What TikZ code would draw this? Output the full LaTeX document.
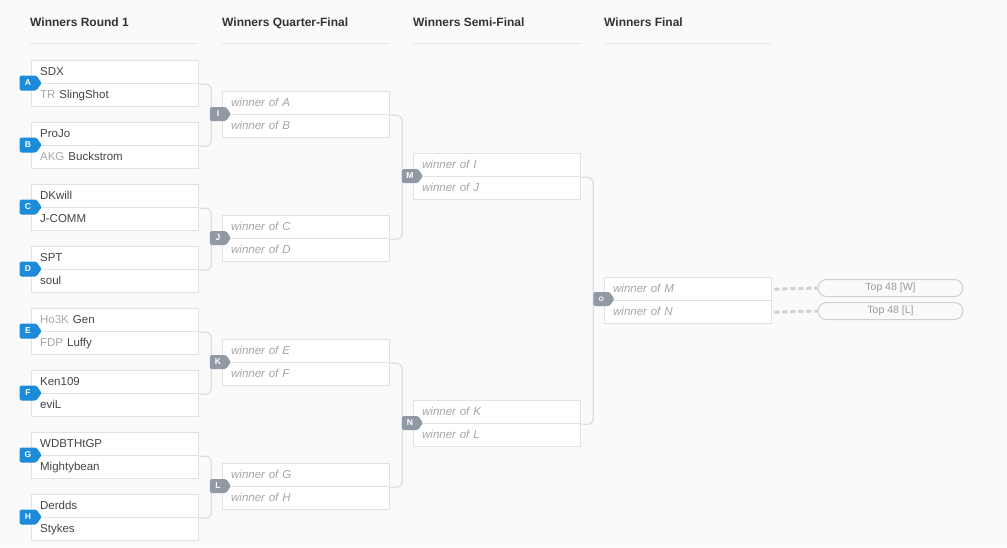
\documentclass[tikz,border=0pt]{standalone}
\usepackage{fontspec}
\setmainfont{Liberation Sans}
\usetikzlibrary{shapes.symbols}
\definecolor{bgc}{HTML}{FAFAFA}
\definecolor{boxc}{HTML}{E2E2E2}
\definecolor{connc}{HTML}{DEDEDE}
\definecolor{namec}{HTML}{444444}
\definecolor{prec}{HTML}{A8A8A8}
\definecolor{winc}{HTML}{A5A5A5}
\definecolor{headc}{HTML}{333333}
\definecolor{linec}{HTML}{E8E8E8}
\definecolor{blueb}{HTML}{1B8BDA}
\definecolor{greyb}{HTML}{8F9AA6}
\definecolor{dashc}{HTML}{D0D0D0}
\definecolor{pillc}{HTML}{CFCFCF}
\definecolor{pilltc}{HTML}{9A9A9A}
\newcommand\pre[1]{{\color{prec}#1}\hspace{4pt}}
\newcommand\mymatch[5]{%
  \node[row] (#1t) at (#2,#3) {#4};
  \node[row] (#1b) at (#2,#3+23) {#5};
}
\begin{document}
\begin{tikzpicture}[x=1pt,y=-1pt,
  row/.style={draw=boxc, line width=1.3pt, fill=white, minimum height=23pt,
    anchor=north west, inner xsep=8.5pt, inner ysep=0pt, text width=150pt,
    text height=8.5pt, text depth=2.5pt,
    align=left, font=\fontsize{11.5}{13}\selectfont, text=namec},
  conn/.style={draw=connc, line width=1.3pt, rounded corners=6pt},
  badgeshape/.style={signal, signal to=east, signal pointer angle=110,
    rounded corners=1.5pt, inner sep=0pt, text=white,
    font=\fontsize{8.5}{9}\selectfont\bfseries},
  badgeb/.style={badgeshape, fill=blueb, minimum width=22pt, minimum height=15pt},
  badgeg/.style={badgeshape, fill=greyb, minimum width=21pt, minimum height=14pt},
  head/.style={anchor=base west, font=\fontsize{12}{14}\selectfont\bfseries, text=headc, inner sep=0pt},
  hline/.style={draw=linec, line width=1pt},
  dashl/.style={draw=dashc, line width=3pt, dash pattern=on 5pt off 3pt},
  pill/.style={draw=pillc, line width=1pt, rounded corners=8.5pt, minimum width=145pt,
    minimum height=17pt, inner sep=0pt, text height=7.5pt, text depth=2pt,
    text=pilltc, font=\fontsize{10.5}{12}\selectfont}
]
\fill[bgc] (0,0) rectangle (1007,547);
\useasboundingbox (0,0) rectangle (1007,547);

% headers
\node[head] (h1) at (30,26.5) {Winners Round 1};
\node[head] (h2) at (222,26.5) {Winners Quarter-Final};
\node[head] (h3) at (413,26.5) {Winners Semi-Final};
\node[head] (h4) at (604,26.5) {Winners Final};
\coordinate (l1a) at (30,43); \coordinate (l1b) at (198,43);
\coordinate (l2a) at (222,43); \coordinate (l2b) at (390,43);
\coordinate (l3a) at (413,43); \coordinate (l3b) at (581,43);
\coordinate (l4a) at (604,43); \coordinate (l4b) at (772,43);
\draw[hline] (l1a) -- (l1b);
\draw[hline] (l2a) -- (l2b);
\draw[hline] (l3a) -- (l3b);
\draw[hline] (l4a) -- (l4b);

% round 1
\mymatch{A}{31}{60}{SDX}{\pre{TR}SlingShot}
\mymatch{B}{31}{122}{ProJo}{\pre{AKG}Buckstrom}
\mymatch{C}{31}{184}{DKwill}{J-COMM}
\mymatch{D}{31}{246}{SPT}{soul}
\mymatch{E}{31}{308}{\pre{Ho3K}Gen}{\pre{FDP}Luffy}
\mymatch{F}{31}{370}{Ken109}{eviL}
\mymatch{G}{31}{432}{WDBTHtGP}{Mightybean}
\mymatch{H}{31}{494}{Derdds}{Stykes}

% quarter-finals
\tikzset{row/.append style={font=\fontsize{11.5}{13}\selectfont\itshape, text=winc}}
\mymatch{I}{222}{91}{winner of A}{winner of B}
\mymatch{J}{222}{215}{winner of C}{winner of D}
\mymatch{K}{222}{339}{winner of E}{winner of F}
\mymatch{L}{222}{463}{winner of G}{winner of H}
% semi-finals
\mymatch{M}{413}{153}{winner of I}{winner of J}
\mymatch{N}{413}{400}{winner of K}{winner of L}
% final
\mymatch{O}{604}{277}{winner of M}{winner of N}

% connectors
\draw[conn] (At.south east) -- ++(12,0) |- (Bt.south east);
\draw[conn] (Ct.south east) -- ++(12,0) |- (Dt.south east);
\draw[conn] (Et.south east) -- ++(12,0) |- (Ft.south east);
\draw[conn] (Gt.south east) -- ++(12,0) |- (Ht.south east);
\draw[conn] (It.south east) -- ++(12,0) |- (Jt.south east);
\draw[conn] (Kt.south east) -- ++(12,0) |- (Lt.south east);
\draw[conn] (Mt.south east) -- ++(12,0) |- (Nt.south east);

% badges
\node[badgeb] (bA) at (28,83) {A};
\node[badgeb] (bB) at (28,145) {B};
\node[badgeb] (bC) at (28,207) {C};
\node[badgeb] (bD) at (28,269) {D};
\node[badgeb] (bE) at (28,331) {E};
\node[badgeb] (bF) at (28,393) {F};
\node[badgeb] (bG) at (28,455) {G};
\node[badgeb] (bH) at (28,517) {H};
\node[badgeg] (bI) at (218,114) {I};
\node[badgeg] (bJ) at (218,238) {J};
\node[badgeg] (bK) at (218,362) {K};
\node[badgeg] (bL) at (218,486) {L};
\node[badgeg] (bM) at (410,176) {M};
\node[badgeg] (bN) at (410,423) {N};
\node[badgeg, font=\fontsize{6.5}{7}\selectfont\bfseries] (bO) at (601.5,299) {O};

% final outcomes
\node[pill] (P1) at (890.5,288) {Top 48 [W]};
\node[pill] (P2) at (890.5,311) {Top 48 [L]};
\draw[dashl] (Ot.east) ++(2,0) -- (P1.west);
\draw[dashl] (Ob.east) ++(2,0) -- (P2.west);
\end{tikzpicture}
\end{document}
